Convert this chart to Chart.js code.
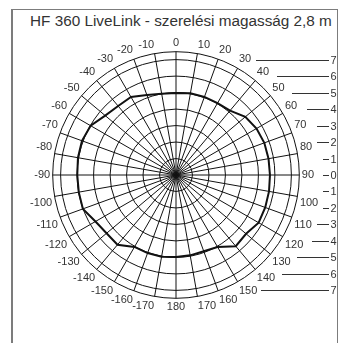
<!DOCTYPE html>
<html>
<head>
<meta charset="utf-8">
<script src="https://cdn.jsdelivr.net/npm/chart.js@4.4.1/dist/chart.umd.min.js"></script>
<style>
  html, body { margin: 0; padding: 0; background: #fff; }
  #frame {
    position: absolute; left: 11px; top: 9px; width: 324px; height: 360px;
    border-left: 2px solid #7c7c7c; border-top: 1px solid #7c7c7c; border-right: 1px solid #7c7c7c;
  }
  #title {
    position: absolute; left: 30px; top: 12px; white-space: nowrap;
    font-family: "Liberation Sans", Arial, sans-serif; font-size: 15.3px; line-height: 18px; color: #333;
  }
  #wrap { position: absolute; left: 0; top: 0; width: 343px; height: 343px; }
</style>
</head>
<body>
<div id="frame"></div>
<div id="title">HF 360 LiveLink - szerelési magasság 2,8 m</div>
<div id="wrap"><canvas id="polar"></canvas></div>
<script>
// angle labels, clockwise from the top
const angles = ["0", "10", "20", "30", "40", "50", "60", "70", "80", "90",
    "100", "110", "120", "130", "140", "150", "160", "170", "180",
    "-170", "-160", "-150", "-140", "-130", "-120", "-110", "-100",
    "-90", "-80", "-70", "-60", "-50", "-40", "-30", "-20", "-10"];

// detection range (in ring units) read at each angle
const range = [4.98, 5.04, 5.04, 5.04, 5.10, 5.49, 5.64, 5.70, 5.70, 5.70,
    5.73, 5.76, 5.79, 5.55, 5.64, 5.04, 4.92, 4.95, 4.98,
    5.04, 5.04, 5.04, 5.52, 5.50, 5.64, 6.01, 5.99,
    5.99, 6.04, 6.07, 5.98, 5.61, 5.46, 5.46, 5.16, 5.01];

// concentric rings, plus the outer edge
const rings = [0, 1, 2, 3, 4, 5, 6, 7];
const outerRing = 7.48;

// metre scale on the right side (signed: above / below the centre)
const sideScale = [7, 6, 5, 4, 3, 2, 1, 0, -1, -2, -3, -4, -5, -6, -7];
// where each of those little lines starts (x, px)
const sideLineStart = [256, 277, 292, 307, 317, 317, 323, 323, 323, 323, 317, 312, 297, 282, 261];

Chart.defaults.font.family = "'Liberation Sans', Arial, sans-serif";

const sideScalePlugin = {
    id: "sideScale",
    afterDraw(chart) {
        const r = chart.scales.r;
        const ctx = chart.ctx;
        ctx.save();
        ctx.strokeStyle = "#333";
        ctx.lineWidth = 1;
        ctx.fillStyle = "#333";
        ctx.font = "11px 'Liberation Sans', Arial, sans-serif";
        ctx.textAlign = "left";
        ctx.textBaseline = "middle";
        sideScale.forEach((v, i) => {
            const y = Math.round(r.yCenter - Math.sign(v) * r.getDistanceFromCenterForValue(Math.abs(v))) + 0.5;
            ctx.beginPath();
            ctx.moveTo(sideLineStart[i], y);
            ctx.lineTo(329, y);
            ctx.stroke();
            ctx.fillText(String(Math.abs(v)), 330.5, y);
        });
        ctx.restore();
    }
};

new Chart(document.getElementById("polar"), {
    type: "radar",
    data: {
        labels: angles,
        datasets: [{
            data: range,
            borderColor: "#111",
            borderWidth: 2,
            pointRadius: 0,
            fill: false,
            tension: 0
        }]
    },
    options: {
        responsive: true,
        maintainAspectRatio: false,
        animation: false,
        layout: { padding: { top: 36, bottom: 29, left: 9, right: 0 } },
        plugins: {
            legend: { display: false },
            tooltip: { enabled: false }
        },
        scales: {
            r: {
                min: 0,
                max: outerRing,
                afterBuildTicks: (scale) => {
                    scale.ticks = rings.concat([outerRing]).map(v => ({ value: v }));
                },
                ticks: { display: false },
                grid: { circular: true, color: "#111", lineWidth: 1 },
                angleLines: { display: true, color: "#111", lineWidth: 1 },
                pointLabels: {
                    display: true,
                    padding: 2.5,
                    color: "#333",
                    font: { size: 11 }
                }
            }
        }
    },
    plugins: [sideScalePlugin]
});
</script>
</body>
</html>
